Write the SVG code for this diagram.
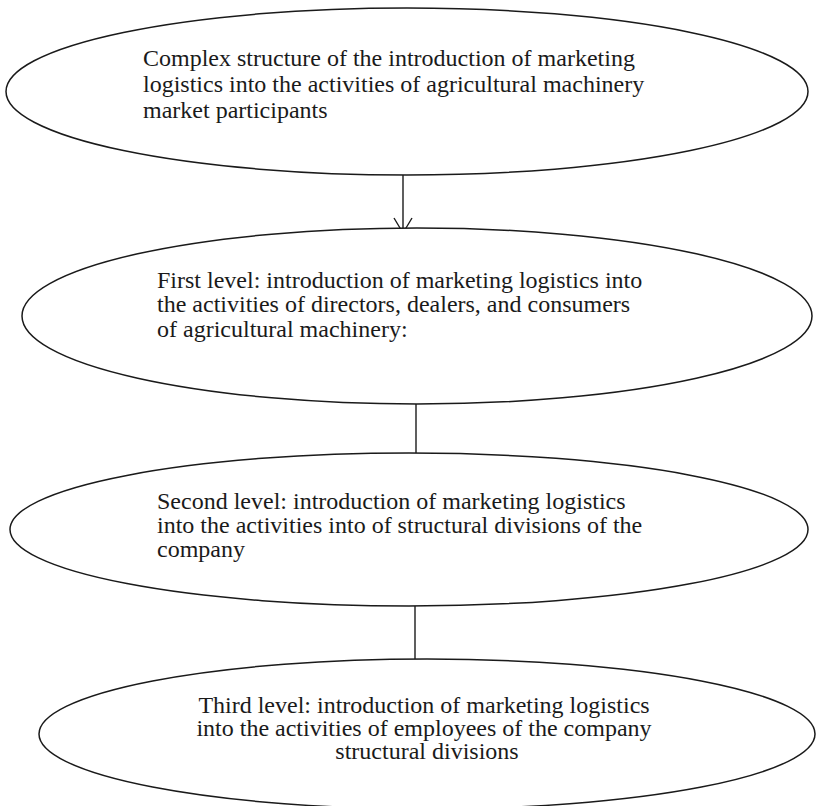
<svg xmlns="http://www.w3.org/2000/svg" width="816" height="806" viewBox="0 0 816 806">
  <style>
    .shape { fill: #ffffff; stroke: #1a1a1a; stroke-width: 1.5; }
    .label { font-family: "Liberation Serif", "Times New Roman", serif; font-size: 24px; fill: #1a1a1a; }
    .link { stroke: #1a1a1a; stroke-width: 1.4; fill: none; }
  </style>

  <!-- connectors -->
  <g id="connectors">
    <line class="link" x1="403" y1="175" x2="403" y2="233" />
    <path class="link" d="M394 218 L403 233 L412 218" />
    <line class="link" x1="416" y1="404" x2="416" y2="453" />
    <line class="link" x1="415" y1="606" x2="415" y2="659" />
  </g>

  <!-- top node -->
  <g id="node-structure">
    <ellipse class="shape" cx="407" cy="91.5" rx="401" ry="83.5" />
    <text class="label">
      <tspan x="143" y="66">Complex structure of the introduction of marketing</tspan>
      <tspan x="143" y="92">logistics into the activities of agricultural machinery</tspan>
      <tspan x="143" y="118">market participants</tspan>
    </text>
  </g>

  <!-- first level -->
  <g id="node-first-level">
    <ellipse class="shape" cx="417" cy="316" rx="395" ry="88" />
    <text class="label">
      <tspan x="157" y="288">First level: introduction of marketing logistics into</tspan>
      <tspan x="157" y="312">the activities of directors, dealers, and consumers</tspan>
      <tspan x="157" y="337">of agricultural machinery:</tspan>
    </text>
  </g>

  <!-- second level -->
  <g id="node-second-level">
    <ellipse class="shape" cx="409" cy="529.5" rx="399" ry="76.5" />
    <text class="label">
      <tspan x="157" y="509">Second level: introduction of marketing logistics</tspan>
      <tspan x="157" y="533">into the activities into of structural divisions of the</tspan>
      <tspan x="157" y="557">company</tspan>
    </text>
  </g>

  <!-- third level -->
  <g id="node-third-level">
    <ellipse class="shape" cx="427" cy="734" rx="388" ry="75" />
    <text class="label" text-anchor="middle">
      <tspan x="427" y="713">Third level: introduction of marketing logistics</tspan>
      <tspan x="427" y="736">into the activities of employees of the company</tspan>
      <tspan x="427" y="759">structural divisions</tspan>
    </text>
  </g>
</svg>
